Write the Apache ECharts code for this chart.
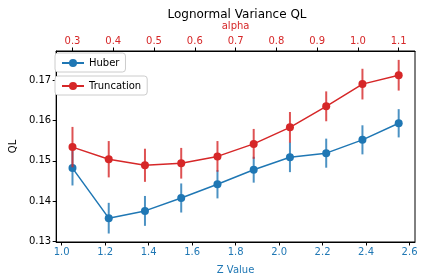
<!DOCTYPE html>
<html>
<head>
<meta charset="utf-8">
<script src="https://cdn.jsdelivr.net/npm/echarts@6/dist/echarts.min.js"></script>
<style>html,body{margin:0;padding:0;background:#fff}#c{width:424px;height:280px}</style>
</head>
<body>
<div id="c"></div>
<script>
var zValues = [1.05, 1.2167, 1.3833, 1.55, 1.7167, 1.8833, 2.05, 2.2167, 2.3833, 2.55];
var huberQL = [0.1482, 0.1358, 0.1376, 0.1408, 0.1442, 0.1478, 0.1509, 0.1519, 0.1552, 0.1593];
var huberErr = [0.0043, 0.0038, 0.0037, 0.0036, 0.0035, 0.0032, 0.0037, 0.0036, 0.0036, 0.0035];
var truncQL = [0.1534, 0.1504, 0.1489, 0.1494, 0.1511, 0.1542, 0.1583, 0.1635, 0.1690, 0.1712];
var truncErr = [0.0050, 0.0045, 0.0041, 0.0038, 0.0038, 0.0037, 0.0038, 0.0037, 0.0038, 0.0038];
var zTicks = [1.0, 1.2, 1.4, 1.6, 1.8, 2.0, 2.2, 2.4, 2.6];
var alphaTicks = [0.3, 0.4, 0.5, 0.6, 0.7, 0.8, 0.9, 1.0, 1.1];
var qlTicks = [0.13, 0.14, 0.15, 0.16, 0.17];

var BLUE = '#1f77b4', RED = '#d62728';
var FONT = 'DejaVu Sans';
var zMin = 0.975, zMax = 2.625;
function zToAlpha(z) { return 0.3 + (z - 1.05) * 0.8 / 1.5; }

function pairs(xs, ys) { return xs.map(function (x, i) { return [x, ys[i]]; }); }
function errData(xs, ys, es) { return xs.map(function (x, i) { return [x, ys[i] - es[i], ys[i] + es[i]]; }); }
function errRender(color) {
  return function (params, api) {
    var p1 = api.coord([api.value(0), api.value(1)]);
    var p2 = api.coord([api.value(0), api.value(2)]);
    return { type: 'line', shape: { x1: p1[0], y1: p1[1], x2: p2[0], y2: p2[1] },
      style: { stroke: color, lineWidth: 2, opacity: 0.8 } };
  };
}

var chart = echarts.init(document.getElementById('c'), null, { renderer: 'canvas' });
chart.setOption({
  animation: false,
  backgroundColor: '#fff',
  textStyle: { fontFamily: FONT },
  title: { text: 'Lognormal Variance QL', left: 232, textAlign: 'center', top: 4,
    textStyle: { fontFamily: FONT, fontSize: 12, fontWeight: 'normal', color: '#000' } },
  grid: { left: 50, right: 9, top: 51, bottom: 38, show: true, borderColor: '#000', borderWidth: 1, backgroundColor: 'transparent' },
  legend: [
    { data: ['Huber'], left: 55, top: 53, orient: 'vertical', itemWidth: 22, itemHeight: 10, itemGap: 4,
      padding: [5, 6, 4, 6], borderColor: '#ccc', borderWidth: 1, borderRadius: 3, backgroundColor: '#fff',
      textStyle: { fontFamily: FONT, fontSize: 10, color: '#000' } },
    { data: ['Truncation'], left: 55, top: 76, orient: 'vertical', itemWidth: 22, itemHeight: 10, itemGap: 4,
      padding: [5, 6, 4, 6], borderColor: '#ccc', borderWidth: 1, borderRadius: 3, backgroundColor: '#fff',
      textStyle: { fontFamily: FONT, fontSize: 10, color: '#000' } }
  ],
  xAxis: [
    { type: 'value', position: 'bottom', min: zMin, max: zMax,
      name: 'Z Value', nameLocation: 'middle', nameGap: 23,
      nameTextStyle: { color: BLUE, fontFamily: FONT, fontSize: 10 },
      axisLine: { show: true, onZero: false, lineStyle: { color: '#000', width: 1 } },
      axisTick: { show: true, inside: false, length: 3.5, customValues: zTicks, lineStyle: { color: '#000' } },
      axisLabel: { color: BLUE, fontFamily: FONT, fontSize: 10, margin: 5, customValues: zTicks,
        formatter: function (v) { return v.toFixed(1); } },
      splitLine: { show: false } },
    { type: 'value', position: 'top', min: zToAlpha(zMin), max: zToAlpha(zMax),
      name: 'alpha', nameLocation: 'middle', nameGap: 19,
      nameTextStyle: { color: RED, fontFamily: FONT, fontSize: 10 },
      axisLine: { show: true, onZero: false, lineStyle: { color: '#000', width: 1 } },
      axisTick: { show: true, inside: false, length: 3.5, customValues: alphaTicks, lineStyle: { color: '#000' } },
      axisLabel: { color: RED, fontFamily: FONT, fontSize: 10, margin: 5, customValues: alphaTicks,
        formatter: function (v) { return v.toFixed(1); } },
      splitLine: { show: false } }
  ],
  yAxis: [
    { type: 'value', min: 0.1299, max: 0.1772,
      name: 'QL', nameLocation: 'middle', nameGap: 36,
      nameTextStyle: { color: '#000', fontFamily: FONT, fontSize: 10 },
      axisLine: { show: true, onZero: false, lineStyle: { color: '#000', width: 1 } },
      axisTick: { show: true, inside: false, length: 3.5, customValues: qlTicks, lineStyle: { color: '#000' } },
      axisLabel: { color: '#000', fontFamily: FONT, fontSize: 10, margin: 5, customValues: qlTicks,
        formatter: function (v) { return v.toFixed(2); } },
      splitLine: { show: false } }
  ],
  series: [
    { type: 'custom', name: 'HuberErr', xAxisIndex: 0, yAxisIndex: 0, z: 2,
      renderItem: errRender(BLUE), data: errData(zValues, huberQL, huberErr), encode: { x: 0, y: [1, 2] } },
    { type: 'line', name: 'Huber', xAxisIndex: 0, yAxisIndex: 0, z: 3,
      data: pairs(zValues, huberQL), symbol: 'circle', symbolSize: 8,
      itemStyle: { color: BLUE }, lineStyle: { color: BLUE, width: 1.5 } },
    { type: 'custom', name: 'TruncErr', xAxisIndex: 0, yAxisIndex: 0, z: 4,
      renderItem: errRender(RED), data: errData(zValues, truncQL, truncErr), encode: { x: 0, y: [1, 2] } },
    { type: 'line', name: 'Truncation', xAxisIndex: 0, yAxisIndex: 0, z: 5,
      data: pairs(zValues, truncQL), symbol: 'circle', symbolSize: 8,
      itemStyle: { color: RED }, lineStyle: { color: RED, width: 1.5 } }
  ]
});
</script>
</body>
</html>
